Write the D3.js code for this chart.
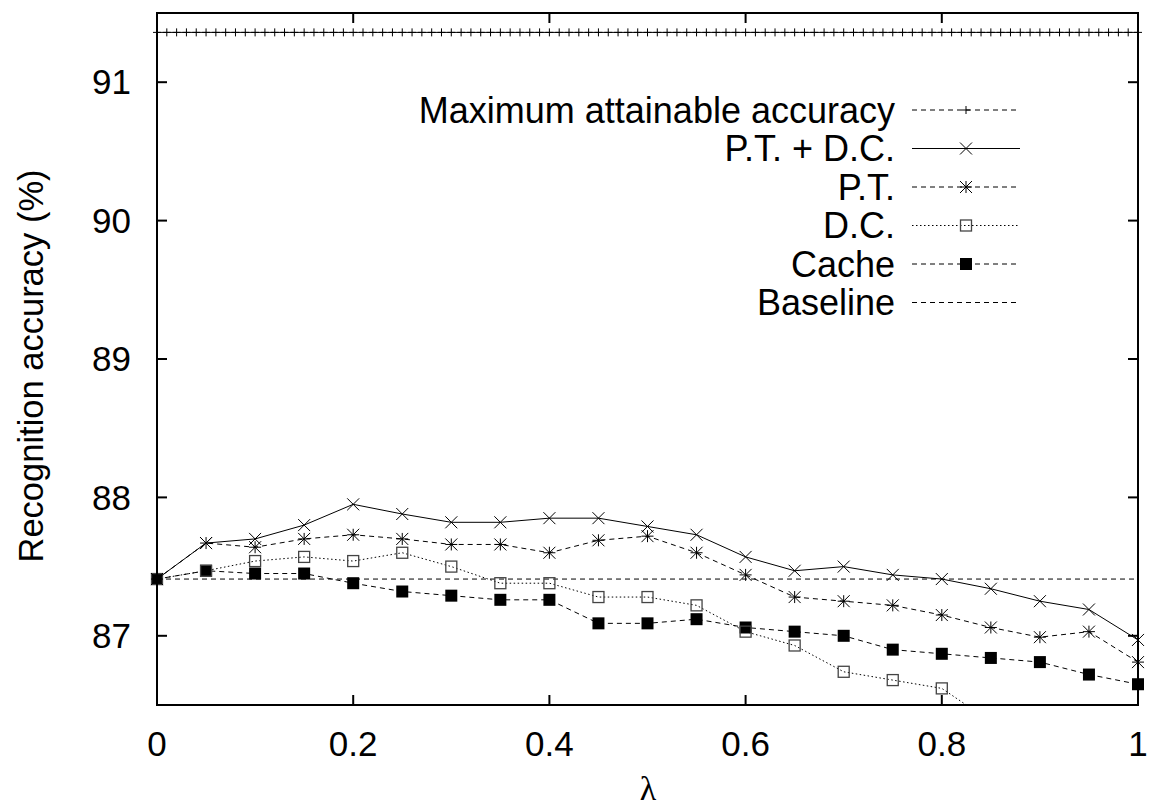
<!DOCTYPE html>
<html>
<head>
<meta charset="utf-8">
<script src="https://cdn.jsdelivr.net/npm/d3@7"></script>
<style>
  body { margin: 0; background: #fff; }
  text { font-family: "Liberation Sans", Arial, Helvetica, sans-serif; fill: #000; }
</style>
</head>
<body>
<div id="chart"></div>
<script>
// lambda values shared by the measured series
const lambdas = [0, 0.05, 0.1, 0.15, 0.2, 0.25, 0.3, 0.35, 0.4, 0.45, 0.5,
                 0.55, 0.6, 0.65, 0.7, 0.75, 0.8, 0.85, 0.9, 0.95, 1];

const ptdc  = [87.41, 87.67, 87.70, 87.80, 87.95, 87.88, 87.82, 87.82, 87.85, 87.85, 87.79,
               87.73, 87.57, 87.47, 87.50, 87.44, 87.41, 87.34, 87.25, 87.19, 86.97];
const pt    = [87.41, 87.67, 87.64, 87.70, 87.73, 87.70, 87.66, 87.66, 87.60, 87.69, 87.72,
               87.60, 87.44, 87.28, 87.25, 87.22, 87.15, 87.06, 86.99, 87.03, 86.81];
const dc    = [87.41, 87.47, 87.54, 87.57, 87.54, 87.60, 87.50, 87.38, 87.38, 87.28, 87.28,
               87.22, 87.03, 86.93, 86.74, 86.68, 86.62, 86.38, 86.30, 86.22, 86.15];
const cache = [87.41, 87.47, 87.45, 87.45, 87.38, 87.32, 87.29, 87.26, 87.26, 87.09, 87.09,
               87.12, 87.06, 87.03, 87.00, 86.90, 86.87, 86.84, 86.81, 86.72, 86.65];

const baseline = 87.41;
const maxAccuracy = 91.36;
// the upper bound was sampled on a finer lambda grid (steps of 0.01)
const maxLambdas = d3.range(0, 101).map(i => i / 100);

const xTicks = [0, 0.2, 0.4, 0.6, 0.8, 1];
const yTicks = [87, 88, 89, 90, 91];

const width = 1150, height = 812;
const plot = { left: 157, right: 1138, top: 13, bottom: 705 };

const svg = d3.select('#chart').append('svg')
  .attr('width', width)
  .attr('height', height);

const x = d3.scaleLinear().domain([0, 1]).range([plot.left, plot.right]);
const y = d3.scaleLinear().domain([86.5, 91.5]).range([plot.bottom, plot.top]);

svg.append('defs').append('clipPath').attr('id', 'plot-clip')
  .append('rect')
  .attr('x', plot.left).attr('y', plot.top)
  .attr('width', plot.right - plot.left).attr('height', plot.bottom - plot.top);

// marker drawing helper
function drawMarker(g, type, cx, cy) {
  if (type === 'plus') {
    const s = 4;
    g.append('path').attr('d', `M${cx - s},${cy}H${cx + s}M${cx},${cy - s}V${cy + s}`)
      .attr('stroke', '#000').attr('stroke-width', 1);
  } else if (type === 'cross') {
    const s = 6;
    g.append('path').attr('d', `M${cx - s},${cy - s}L${cx + s},${cy + s}M${cx - s},${cy + s}L${cx + s},${cy - s}`)
      .attr('stroke', '#000').attr('stroke-width', 1);
  } else if (type === 'star') {
    const s = 6;
    g.append('path').attr('d', `M${cx - s},${cy - s}L${cx + s},${cy + s}M${cx - s},${cy + s}L${cx + s},${cy - s}M${cx - s},${cy}H${cx + s}M${cx},${cy - s}V${cy + s}`)
      .attr('stroke', '#000').attr('stroke-width', 1);
  } else if (type === 'box') {
    const s = 5.5;
    g.append('rect').attr('x', cx - s).attr('y', cy - s).attr('width', 2 * s).attr('height', 2 * s)
      .attr('fill', 'none').attr('stroke', '#444').attr('stroke-width', 1.3);
  } else if (type === 'fbox') {
    const s = 6;
    g.append('rect').attr('x', cx - s).attr('y', cy - s).attr('width', 2 * s).attr('height', 2 * s)
      .attr('fill', '#000');
  }
}

const series = [
  { name: 'P.T. + D.C.', values: ptdc,  marker: 'cross', dash: null },
  { name: 'P.T.',        values: pt,    marker: 'star',  dash: '5,4' },
  { name: 'D.C.',        values: dc,    marker: 'box',   dash: '1.5,2.5' },
  { name: 'Cache',       values: cache, marker: 'fbox',  dash: '5,4' }
];

const line = d3.line().x(d => x(d[0])).y(d => y(d[1]));

// baseline
svg.append('line')
  .attr('x1', x(0)).attr('x2', x(1))
  .attr('y1', y(baseline)).attr('y2', y(baseline))
  .attr('stroke', '#000').attr('stroke-width', 1)
  .attr('stroke-dasharray', '5,4');

// maximum attainable accuracy
svg.append('path')
  .attr('d', line(maxLambdas.map(l => [l, maxAccuracy])))
  .attr('fill', 'none').attr('stroke', '#000').attr('stroke-width', 1);
const maxG = svg.append('g');
maxLambdas.forEach(l => drawMarker(maxG, 'plus', x(l), y(maxAccuracy)));

// measured series, drawn back to front
series.slice().reverse().forEach(s => {
  const pts = lambdas.map((l, i) => [l, s.values[i]]);
  svg.append('path')
    .attr('d', line(pts))
    .attr('clip-path', 'url(#plot-clip)')
    .attr('fill', 'none')
    .attr('stroke', '#000')
    .attr('stroke-width', 1)
    .attr('stroke-dasharray', s.dash);
  const g = svg.append('g');
  pts.filter(p => p[1] >= 86.5).forEach(p => drawMarker(g, s.marker, x(p[0]), y(p[1])));
});

// frame
svg.append('rect')
  .attr('x', plot.left).attr('y', plot.top)
  .attr('width', plot.right - plot.left).attr('height', plot.bottom - plot.top)
  .attr('fill', 'none').attr('stroke', '#000').attr('stroke-width', 2);

// inward ticks on all four sides
const tickLen = 10;
const ticks = svg.append('g').attr('stroke', '#000').attr('stroke-width', 2);
xTicks.forEach(t => {
  ticks.append('line').attr('x1', x(t)).attr('x2', x(t)).attr('y1', plot.bottom).attr('y2', plot.bottom - tickLen);
  ticks.append('line').attr('x1', x(t)).attr('x2', x(t)).attr('y1', plot.top).attr('y2', plot.top + tickLen);
});
yTicks.forEach(t => {
  ticks.append('line').attr('x1', plot.left).attr('x2', plot.left + tickLen).attr('y1', y(t)).attr('y2', y(t));
  ticks.append('line').attr('x1', plot.right).attr('x2', plot.right - tickLen).attr('y1', y(t)).attr('y2', y(t));
});

// tick labels
svg.append('g').selectAll('text').data(xTicks).join('text')
  .attr('x', d => x(d)).attr('y', 756)
  .attr('text-anchor', 'middle')
  .attr('font-size', 35)
  .text(d => d3.format('')(d));

svg.append('g').selectAll('text').data(yTicks).join('text')
  .attr('x', 131).attr('y', d => y(d))
  .attr('dy', '0.35em')
  .attr('text-anchor', 'end')
  .attr('font-size', 35)
  .text(d => d);

// axis titles
svg.append('text')
  .attr('transform', 'translate(43,366) rotate(-90)')
  .attr('text-anchor', 'middle')
  .attr('font-size', 34.5)
  .text('Recognition accuracy (%)');

svg.append('text')
  .attr('x', 648).attr('y', 800)
  .attr('text-anchor', 'middle')
  .attr('font-size', 34)
  .style('font-family', '"Liberation Serif", "DejaVu Serif", serif')
  .text('λ');

// legend
const legendItems = [
  { name: 'Maximum attainable accuracy', marker: 'plus', dash: '5,4' },
  { name: 'P.T. + D.C.', marker: 'cross', dash: null },
  { name: 'P.T.', marker: 'star', dash: '5,4' },
  { name: 'D.C.', marker: 'box', dash: '1.5,2.5' },
  { name: 'Cache', marker: 'fbox', dash: '5,4' },
  { name: 'Baseline', marker: null, dash: '5,4' }
];
const legend = svg.append('g');
legendItems.forEach((it, i) => {
  const ly = 110 + i * 38.5;
  legend.append('text')
    .attr('x', 895).attr('y', ly).attr('dy', '0.35em')
    .attr('text-anchor', 'end')
    .attr('font-size', 36)
    .text(it.name);
  legend.append('line')
    .attr('x1', 912).attr('x2', 1020).attr('y1', ly).attr('y2', ly)
    .attr('stroke', '#000').attr('stroke-width', 1)
    .attr('stroke-dasharray', it.dash);
  if (it.marker) drawMarker(legend, it.marker, 966, ly);
});
</script>
</body>
</html>
